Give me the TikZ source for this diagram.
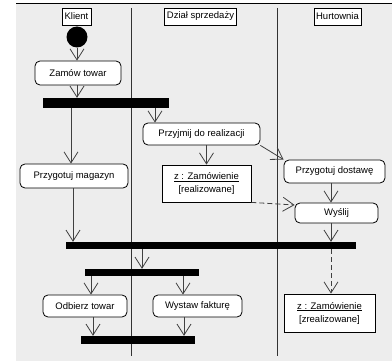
\documentclass[tikz,border=0pt]{standalone}
\usepackage{fontspec}
\setmainfont{Liberation Sans}
\usetikzlibrary{arrows.meta,calc}
\begin{document}
\begin{tikzpicture}[x=1pt,y=-1pt,
  font=\fontsize{9.5}{13}\selectfont,
  box/.style={draw=black, line width=0.8pt, fill=white, inner sep=0pt},
  act/.style={box, rounded corners=5pt},
  obj/.style={box, align=center},
  lanehead/.style={box, minimum height=17pt},
  syncbar/.style={fill=black, inner sep=0pt},
  flow/.style={draw=black!75, line width=0.8pt, -{Straight Barb[length=11pt,width=14pt]}},
  objflow/.style={flow, dash pattern=on 5pt off 3pt},
  lane/.style={draw=black!80, line width=0.7pt}]
\useasboundingbox (0,0) rectangle (392,361);
% swimlane background and frame
\fill[black!7] (16,3) rectangle (392,361);
\draw[line width=0.8pt] (16,3.5) -- (392,3.5);
\draw[lane] (131,8) -- (131,356);
\draw[lane] (277,8) -- (277,356);

% lane headers
\node[lanehead, minimum width=29pt] (hk) at (76.5,16.5) {Klient};
\node[lanehead, minimum width=72pt] (hd) at (200.5,16.5) {Dział sprzedaży};
\node[lanehead, minimum width=47pt] (hh) at (337.5,16.5) {Hurtownia};

% activities, objects and synchronisation bars
\node[circle, fill=black, minimum size=21pt, inner sep=0pt] (start) at (77,37) {};
\node[act, minimum width=86pt, minimum height=24pt] (zamow) at (78,73) {Zamów towar};
\node[syncbar, minimum width=126pt, minimum height=10pt] (bar1) at (106,103) {};
\node[act, minimum width=108pt, minimum height=24pt] (magazyn) at (74,176) {Przygotuj magazyn};
\node[act, minimum width=117pt, minimum height=22pt] (przyjmij) at (201.5,134) {Przyjmij do realizacji};
\node[obj, minimum width=89pt, minimum height=37pt] (zam1) at (206.5,183.5) {\underline{z : Zamówienie}\\{}[realizowane]};
\node[act, minimum width=101pt, minimum height=23pt] (dostawa) at (334.5,171.5) {Przygotuj dostawę};
\node[act, minimum width=83pt, minimum height=20pt] (wyslij) at (336.5,213) {Wyślij};
\node[syncbar, minimum width=290pt, minimum height=7pt] (bar2) at (211,245.5) {};
\node[obj, minimum width=91pt, minimum height=38pt] (zam2) at (329.5,313) {\underline{z : Zamówienie}\\{}[zrealizowane]};
\node[syncbar, minimum width=114pt, minimum height=7pt] (bar3) at (142,272.5) {};
\node[act, minimum width=84pt, minimum height=22pt] (odbierz) at (85,306) {Odbierz towar};
\node[act, minimum width=89pt, minimum height=22pt] (faktura) at (197.5,306) {Wystaw fakturę};
\node[syncbar, minimum width=114pt, minimum height=8pt] (bar4) at (138,340) {};

% columns used by the vertical connectors
\coordinate (xMagIn) at (71,0);
\coordinate (xMagOut) at (73,0);
\coordinate (xPrz) at (155,0);
\coordinate (xHurt) at (331,0);
\coordinate (xOdbIn) at (91,0);
\coordinate (xOdbOut) at (93,0);
\coordinate (xFakIn) at (183,0);
\coordinate (xFakOut) at (184,0);
\coordinate (wyslijIn) at ($(wyslij.west)+(0,-8)$);

% control flow
\draw[flow] (start.south) -- (start.south |- zamow.north);
\draw[flow] (zamow.south -| start.south) -- (bar1.north -| start.south);
\draw[flow] (bar1.south -| xMagIn) -- (magazyn.north -| xMagIn);
\draw[flow] (bar1.south -| xPrz) -- (przyjmij.north -| xPrz);
\draw[flow] (przyjmij.south -| zam1.north) -- (zam1.north);
\draw[flow] (przyjmij.south east) -- (dostawa.north west);
\draw[flow] (dostawa.south -| xHurt) -- (wyslij.north -| xHurt);
\draw[objflow] (zam1.south east) -- (wyslijIn);
\draw[flow] (wyslij.south -| xHurt) -- (bar2.north -| xHurt);
\draw[flow] (magazyn.south -| xMagOut) -- (bar2.north -| xMagOut);
\draw[objflow] (bar2.south -| xHurt) -- (zam2.north -| xHurt);
\draw[flow] (bar2.south -| bar3.north) -- (bar3.north);
\draw[flow] (bar3.south -| xOdbIn) -- (odbierz.north -| xOdbIn);
\draw[flow] (bar3.south -| xFakIn) -- (faktura.north -| xFakIn);
\draw[flow] (odbierz.south -| xOdbOut) -- (bar4.north -| xOdbOut);
\draw[flow] (faktura.south -| xFakOut) -- (bar4.north -| xFakOut);
\end{tikzpicture}
\end{document}
